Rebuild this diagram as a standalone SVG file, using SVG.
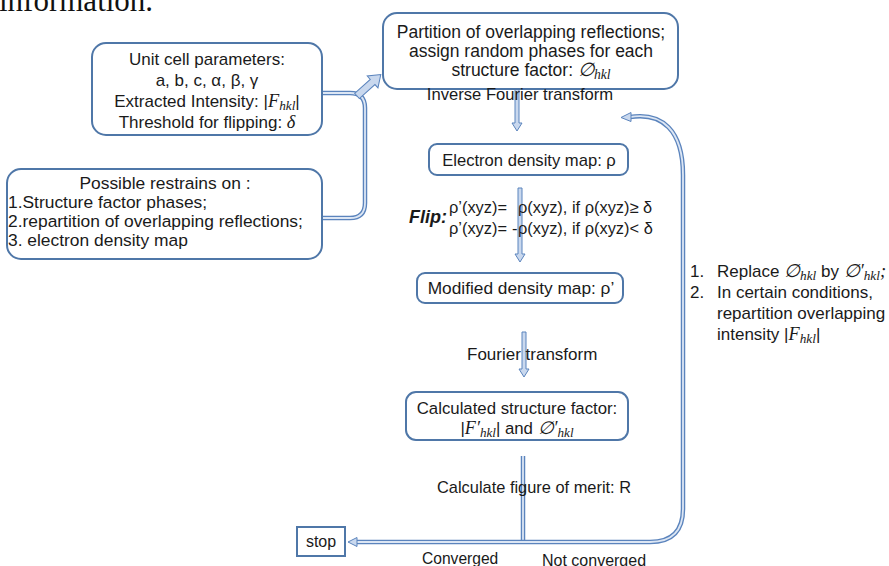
<svg xmlns="http://www.w3.org/2000/svg" width="889" height="566" viewBox="0 0 889 566">
<style>
  .box{fill:#fff;stroke:#4f77a8;stroke-width:2}
  .t{font-family:"Liberation Sans",Arial,sans-serif;font-size:17px;fill:#1a1a1a}
  .m{font-family:"Liberation Serif","Times New Roman",serif;font-style:italic;font-size:1.08em}
  .sub{font-size:0.78em}
  .c{text-anchor:middle}
  .lo{fill:none;stroke:#5b84bd;stroke-width:4.5;stroke-linecap:butt}
  .li{fill:none;stroke:#dce6f4;stroke-width:1.8}
  .ba{fill:#c9d8ee;stroke:#5b84bd;stroke-width:1}
</style>
<text x="-1" y="11" font-family="'Liberation Serif','Times New Roman',serif" font-size="31" fill="#111">information.</text>

<g id="connectors">
  <path class="lo" d="M322 93 L350 93 Q365 93 365 108 L365 203 Q365 218 350 218 L322 218"/>
  <path class="li" d="M322 93 L350 93 Q365 93 365 108 L365 203 Q365 218 350 218 L322 218"/>
  <path class="ba" transform="translate(357,96) rotate(-42)" d="M0,-3.5 L21,-3.5 L21,-8 L32,0 L21,8 L21,3.5 L0,3.5 Z"/>
  <path class="ba" d="M515 89 L519 89 L519 123 L522 123 L517 131 L512 123 L515 123 Z"/>
  <path class="ba" d="M518 188 L522 188 L522 254 L525 254 L520 262 L515 254 L518 254 Z"/>
  <path class="ba" d="M522 332 L526 332 L526 369 L529 369 L524 377 L519 369 L522 369 Z"/>
  <path class="lo" d="M523 456 L523 542"/>
  <path class="li" d="M523 456 L523 542"/>
  <path class="lo" d="M523 542 L356 542"/>
  <path class="li" d="M523 542 L356 542"/>
  <path class="ba" d="M348 542 L357 537.5 L357 546.5 Z"/>
  <path class="lo" d="M523 542 L650 542 Q683 542 683 509 L683 175 C683 130 662 112 630 117"/>
  <path class="li" d="M523 542 L650 542 Q683 542 683 509 L683 175 C683 130 662 112 630 117"/>
  <path class="ba" d="M621 117.5 L631 112.5 L631 121.5 Z"/>
</g>

<g id="unit-cell">
  <rect class="box" x="92" y="43" width="230" height="92" rx="14"/>
  <text class="t c" x="207" y="65">Unit cell parameters:</text>
  <text class="t c" x="207" y="86">a, b, c, α, β, γ</text>
  <text class="t c" x="207" y="107">Extracted Intensity: |<tspan class="m">F</tspan><tspan class="m sub" dy="3">hkl</tspan><tspan dy="-3">|</tspan></text>
  <text class="t c" x="207" y="128">Threshold for flipping: <tspan class="m">δ</tspan></text>
</g>

<g id="restrains">
  <rect class="box" x="7" y="169" width="315" height="90" rx="14"/>
  <text class="t c" x="165" y="189" style="font-size:17.4px">Possible restrains on :</text>
  <text class="t" x="8" y="208" style="font-size:17.4px">1.Structure factor phases;</text>
  <text class="t" x="8" y="227" style="font-size:17.4px">2.repartition of overlapping reflections;</text>
  <text class="t" x="8" y="246" style="font-size:17.4px">3. electron density map</text>
</g>

<g id="partition">
  <rect class="box" x="383" y="13" width="295" height="76" rx="14"/>
  <text class="t c" x="531" y="38" style="font-size:17.5px">Partition of overlapping reflections;</text>
  <text class="t c" x="531" y="57" style="font-size:17.5px">assign random phases for each</text>
  <text class="t c" x="531" y="76" style="font-size:17.5px">structure factor: <tspan class="m">∅</tspan><tspan class="m sub" dy="3">hkl</tspan></text>
</g>

<text class="t c" x="520" y="100" style="font-size:16.6px">Inverse Fourier transform</text>

<g id="density">
  <rect class="box" x="429" y="144" width="199" height="31" rx="8"/>
  <text class="t c" x="529" y="166" style="font-size:16.6px">Electron density map: ρ</text>
</g>

<g id="flip">
  <text x="409" y="223" font-family="'Liberation Sans',Arial,sans-serif" font-size="18" font-weight="bold" font-style="italic" fill="#1a1a1a">Flip:</text>
  <text class="t" x="449" y="213" style="font-size:16.4px">ρ’(xyz)=</text>
  <text class="t" x="518" y="213" style="font-size:16.4px">ρ(xyz), if ρ(xyz)≥ δ</text>
  <text class="t" x="449" y="234" style="font-size:16.4px">ρ’(xyz)=</text>
  <text class="t" x="512" y="234" style="font-size:16.4px">-</text>
  <text class="t" x="518" y="234" style="font-size:16.4px">ρ(xyz), if ρ(xyz)&lt; δ</text>
</g>

<g id="modified">
  <rect class="box" x="417" y="273" width="206" height="30" rx="8"/>
  <text class="t c" x="521" y="294" style="font-size:17.3px">Modified density map: ρ’</text>
</g>

<text class="t" x="467" y="360">Fourier transform</text>

<g id="calculated">
  <rect class="box" x="406" y="392" width="222" height="48" rx="10"/>
  <text class="t c" x="517" y="414" style="font-size:16.8px">Calculated structure factor:</text>
  <text class="t c" x="517" y="434" style="font-size:16.8px">|<tspan class="m">F′</tspan><tspan class="m sub" dy="3">hkl</tspan><tspan dy="-3">| and </tspan><tspan class="m">∅′</tspan><tspan class="m sub" dy="3">hkl</tspan></text>
</g>

<text class="t" x="437" y="493" style="font-size:16.4px">Calculate figure of merit: R</text>

<g id="stop">
  <rect x="297" y="527" width="48" height="29" fill="#fff" stroke="#4f77a8" stroke-width="2"/>
  <text class="t c" x="321" y="547" style="font-size:16px">stop</text>
</g>

<text class="t" x="422" y="564" style="font-size:15.6px">Converged</text>
<text class="t" x="542" y="566" style="font-size:16px">Not converged</text>

<g id="update-note">
  <text class="t" x="690" y="277">1.</text>
  <text class="t" x="717" y="277">Replace <tspan class="m">∅</tspan><tspan class="m sub" dy="3">hkl</tspan><tspan dy="-3"> by </tspan><tspan class="m">∅′</tspan><tspan class="m sub" dy="3">hkl</tspan><tspan class="m" dy="-3">;</tspan></text>
  <text class="t" x="690" y="298">2.</text>
  <text class="t" x="717" y="298">In certain conditions,</text>
  <text class="t" x="717" y="319">repartition overlapping</text>
  <text class="t" x="717" y="340">intensity |<tspan class="m">F</tspan><tspan class="m sub" dy="3">hkl</tspan><tspan dy="-3">|</tspan></text>
</g>
</svg>
